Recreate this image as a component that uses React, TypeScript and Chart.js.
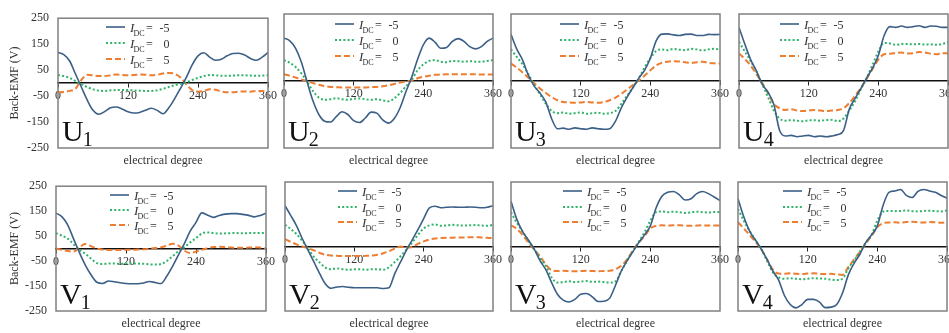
import React, { useEffect, useRef } from 'react';
import { Chart, registerables } from 'chart.js';

Chart.register(...registerables);

// ---------------- data ----------------
const DEGREES = [0, 10, 20, 30, 40, 50, 60, 70, 80, 90, 100, 110, 120, 130, 140, 150, 160, 170, 180, 190, 200, 210, 220, 230, 240, 250, 260, 270, 280, 290, 300, 310, 320, 330, 340, 350, 360];
const IDC_VALUES = ['-5', '0', '5'];
const X_MIN = 0, X_MAX = 360, X_STEP = 120;
const Y_MIN = -250, Y_MAX = 250, Y_STEP = 100;

const U1_NEG5 = [118, 110, 85, 35, -15, -65, -105, -120, -110, -95, -92, -100, -110, -115, -113, -105, -97, -105, -118, -95, -60, -20, 22, 70, 105, 117, 100, 88, 92, 105, 114, 115, 108, 95, 88, 100, 118];
const U1_ZERO = [31, 27, 20, 8, -4, -15, -24, -29, -30, -28, -27, -27, -27, -28, -29, -30, -30, -28, -22, -15, -8, -3, 3, 12, 20, 27, 31, 30, 28, 28, 29, 30, 30, 29, 28, 29, 31];
const U1_POS5 = [-35, -34, -30, -22, 12, 32, 30, 27, 27, 30, 33, 31, 30, 31, 33, 32, 30, 32, 37, 39, 36, 22, -5, -27, -33, -30, -24, -26, -32, -35, -35, -33, -32, -33, -30, -30, -35];

const U2_NEG5 = [160, 150, 122, 70, -5, -75, -125, -150, -153, -133, -115, -125, -148, -155, -138, -116, -120, -145, -157, -140, -100, -40, 15, 80, 135, 160, 145, 122, 125, 148, 158, 148, 128, 120, 128, 148, 160];
const U2_ZERO = [78, 68, 52, 28, -3, -38, -62, -70, -68, -64, -68, -70, -66, -65, -68, -70, -68, -72, -76, -65, -45, -20, 5, 40, 62, 75, 78, 72, 70, 75, 74, 72, 74, 72, 72, 75, 78];
const U2_POS5 = [25, 20, 13, 6, -1, -8, -14, -19, -22, -23, -24, -24, -24, -24, -24, -23, -22, -20, -16, -11, -6, -2, 2, 10, 16, 20, 23, 24, 25, 25, 25, 25, 25, 25, 24, 24, 25];

const U3_NEG5 = [174, 119, 78, 21, -19, -45, -79, -141, -178, -176, -180, -175, -178, -180, -175, -178, -180, -178, -150, -100, -60, -25, 10, 40, 85, 150, 175, 176, 172, 170, 174, 175, 170, 170, 174, 173, 174];
const U3_ZERO = [118, 90, 62, 25, -15, -50, -85, -112, -120, -118, -122, -120, -117, -122, -120, -118, -122, -120, -112, -85, -55, -25, 10, 50, 85, 112, 118, 115, 120, 117, 115, 120, 118, 114, 118, 120, 118];
const U3_POS5 = [65, 50, 32, 12, -8, -28, -45, -60, -72, -78, -80, -81, -80, -78, -80, -81, -78, -72, -62, -48, -32, -15, 2, 20, 40, 58, 68, 72, 74, 73, 70, 67, 70, 72, 68, 66, 65];

const U4_NEG5 = [200, 138, 80, 38, -12, -42, -88, -185, -205, -203, -208, -205, -203, -208, -205, -208, -205, -200, -185, -105, -65, -28, 12, 48, 95, 170, 203, 200, 205, 200, 203, 206, 200, 205, 204, 200, 200];
const U4_ZERO = [146, 110, 75, 35, -12, -60, -110, -140, -148, -146, -148, -150, -147, -146, -148, -146, -145, -150, -140, -110, -75, -30, 12, 60, 110, 142, 140, 135, 138, 138, 137, 138, 136, 137, 135, 138, 146];
const U4_POS5 = [103, 82, 58, 25, -8, -45, -85, -102, -108, -105, -110, -112, -110, -108, -110, -112, -110, -108, -102, -82, -55, -25, 8, 45, 80, 100, 102, 104, 106, 103, 104, 108, 106, 102, 100, 104, 103];

const V1_NEG5 = [142, 128, 95, 40, -15, -65, -105, -135, -140, -130, -133, -137, -140, -141, -141, -138, -132, -136, -140, -110, -70, -25, 20, 70, 105, 143, 134, 125, 133, 138, 140, 140, 137, 133, 127, 133, 142];
const V1_ZERO = [62, 52, 40, 18, -5, -20, -40, -58, -62, -60, -60, -61, -60, -60, -60, -61, -63, -64, -62, -50, -30, -10, 5, 25, 42, 60, 65, 62, 60, 61, 62, 62, 61, 62, 62, 62, 62];
const V1_POS5 = [0, -5, -10, -12, 5, 18, 10, 0, -4, -6, -6, -6, -5, -5, -4, -3, -1, 2, 5, 12, 19, 12, -8, -18, -12, -5, 2, 6, 7, 6, 4, 3, 3, 4, 5, 4, 0];

const V2_NEG5 = [158, 120, 80, 30, -15, -60, -105, -145, -162, -157, -155, -158, -160, -160, -160, -160, -160, -163, -160, -105, -60, -15, 25, 65, 108, 150, 156, 150, 152, 153, 152, 152, 153, 152, 150, 152, 158];
const V2_ZERO = [84, 68, 48, 22, -8, -40, -62, -82, -88, -85, -88, -90, -88, -88, -90, -88, -88, -90, -80, -60, -38, -12, 15, 45, 70, 82, 85, 80, 82, 84, 82, 81, 82, 83, 81, 80, 84];
const V2_POS5 = [28, 18, 8, 0, -6, -15, -25, -32, -35, -36, -37, -37, -37, -37, -36, -35, -32, -26, -18, -8, 0, -4, -2, 10, 20, 27, 31, 33, 34, 34, 35, 35, 36, 36, 35, 34, 32];

const V3_NEG5 = [175, 105, 58, 25, -10, -55, -90, -140, -185, -208, -215, -205, -185, -182, -195, -213, -212, -200, -150, -95, -55, -20, 15, 45, 80, 150, 195, 210, 213, 200, 180, 185, 205, 213, 205, 192, 178];
const V3_ZERO = [133, 92, 58, 22, -10, -45, -75, -120, -140, -138, -135, -138, -136, -134, -137, -136, -138, -140, -135, -95, -55, -18, 18, 55, 100, 133, 136, 133, 135, 133, 130, 132, 135, 133, 132, 134, 133];
const V3_POS5 = [82, 68, 45, 15, -12, -38, -70, -92, -95, -94, -95, -96, -95, -94, -95, -96, -95, -94, -88, -75, -50, -15, 15, 40, 70, 80, 82, 81, 82, 82, 81, 80, 81, 82, 81, 81, 82];

const V4_NEG5 = [185, 115, 60, 25, -10, -50, -95, -130, -190, -225, -238, -225, -205, -205, -215, -237, -235, -225, -180, -110, -65, -30, 15, 45, 80, 160, 210, 215, 221, 198, 190, 214, 221, 215, 210, 198, 187];
const V4_ZERO = [145, 100, 60, 25, -10, -55, -100, -120, -125, -123, -125, -127, -125, -123, -124, -125, -128, -130, -125, -85, -55, -20, 15, 45, 100, 135, 138, 137, 138, 140, 137, 136, 138, 139, 137, 136, 140];
const V4_POS5 = [94, 70, 45, 18, -10, -50, -90, -105, -106, -104, -106, -107, -105, -104, -106, -107, -106, -108, -110, -80, -50, -20, 12, 40, 75, 90, 93, 94, 92, 95, 96, 94, 93, 95, 94, 92, 94];

const PANEL_NAMES = ['U', 'U', 'U', 'U', 'V', 'V', 'V', 'V'];
const PANEL_SUBS = ['1', '2', '3', '4', '1', '2', '3', '4'];
const PANEL_SERIES = [
  [U1_NEG5, U1_ZERO, U1_POS5],
  [U2_NEG5, U2_ZERO, U2_POS5],
  [U3_NEG5, U3_ZERO, U3_POS5],
  [U4_NEG5, U4_ZERO, U4_POS5],
  [V1_NEG5, V1_ZERO, V1_POS5],
  [V2_NEG5, V2_ZERO, V2_POS5],
  [V3_NEG5, V3_ZERO, V3_POS5],
  [V4_NEG5, V4_ZERO, V4_POS5],
];

// ---------------- layout & style ----------------
const BOXES = [
  { l: 58, t: 14, r: 268, b: 148, legendX: 48 },
  { l: 284, t: 14, r: 493, b: 148, legendX: 51 },
  { l: 511, t: 14, r: 720, b: 148, legendX: 49 },
  { l: 739, t: 14, r: 948, b: 148, legendX: 41 },
  { l: 56, t: 182, r: 266, b: 311, legendX: 54 },
  { l: 285, t: 182, r: 493, b: 311, legendX: 53 },
  { l: 511, t: 182, r: 720, b: 311, legendX: 52 },
  { l: 738, t: 182, r: 947, b: 311, legendX: 45 },
];

const FONT = '"Liberation Serif", "Times New Roman", serif';
const TEXT_COLOR = '#333333';
const STYLES = [
  { color: '#3c5f87', width: 1.6, dash: [] as number[] },
  { color: '#2fb36b', width: 2, dash: [2, 2.2] },
  { color: '#ed7d31', width: 2, dash: [6, 3] },
];
const LEGEND_FRACS = [0.071, 0.193, 0.313];

const decorPlugin = {
  id: 'decor',
  afterDraw(chart: any, _args: any, opts: any) {
    const { ctx, chartArea: a } = chart;
    ctx.save();
    // frame
    ctx.setLineDash([]);
    ctx.strokeStyle = '#808080';
    ctx.lineWidth = 1.5;
    ctx.strokeRect(a.left, a.top, a.right - a.left, a.bottom - a.top);

    // panel label
    ctx.fillStyle = '#111';
    ctx.textAlign = 'left';
    ctx.textBaseline = 'alphabetic';
    ctx.font = `30px ${FONT}`;
    ctx.fillText(opts.name, a.left + 4, a.bottom - 7);
    const w = ctx.measureText(opts.name).width;
    ctx.font = `20px ${FONT}`;
    ctx.fillText(opts.sub, a.left + 4 + w - 1, a.bottom - 2);

    // x-axis title
    ctx.fillStyle = TEXT_COLOR;
    ctx.font = `12px ${FONT}`;
    ctx.textAlign = 'center';
    ctx.fillText('electrical degree', (a.left + a.right) / 2, a.bottom + 16);

    // legend
    const lx = a.left + opts.legendX;
    for (let k = 0; k < 3; k++) {
      const st = STYLES[k];
      const y = Math.round(a.top + LEGEND_FRACS[k] * (a.bottom - a.top));
      ctx.beginPath();
      ctx.setLineDash(st.dash);
      ctx.strokeStyle = st.color;
      ctx.lineWidth = st.width;
      ctx.moveTo(lx, y);
      ctx.lineTo(lx + 19, y);
      ctx.stroke();
      ctx.setLineDash([]);
      const base = y + 4.5;
      ctx.fillStyle = TEXT_COLOR;
      ctx.textAlign = 'left';
      ctx.font = `italic 13px ${FONT}`;
      ctx.fillText('I', lx + 24, base);
      ctx.font = `8px ${FONT}`;
      ctx.fillText('DC', lx + 27.5, base + 4.5);
      ctx.font = `12px ${FONT}`;
      ctx.fillText('=', lx + 40, base);
      ctx.textAlign = 'right';
      ctx.fillText(IDC_VALUES[k], lx + 63.5, base);
    }
    ctx.restore();
  },
};

const PAD_T = 12, PAD_R = 14, PAD_B = 24, PAD_L = 14;

function PanelChart({ index }: { index: number }) {
  const ref = useRef<HTMLCanvasElement>(null);
  const box = BOXES[index];
  const showY = index % 4 === 0;
  const canvasLeft = showY ? 0 : box.l - PAD_L;
  const canvasTop = box.t - PAD_T;
  const width = box.r + PAD_R - canvasLeft;
  const height = box.b + PAD_B - canvasTop;

  useEffect(() => {
    if (!ref.current) return;
    const series = PANEL_SERIES[index];
    const chart = new Chart(ref.current, {
      type: 'line',
      data: {
        datasets: series.map((vals, k) => ({
          label: `IDC = ${IDC_VALUES[k]}`,
          data: DEGREES.map((d, i) => ({ x: d, y: vals[i] })),
          borderColor: STYLES[k].color,
          borderWidth: STYLES[k].width,
          borderDash: STYLES[k].dash,
          borderCapStyle: 'butt',
          pointRadius: 0,
          fill: false,
          cubicInterpolationMode: 'monotone',
        })),
      },
      options: {
        responsive: false,
        maintainAspectRatio: false,
        animation: false,
        events: [],
        layout: { padding: { left: showY ? 8 : PAD_L, top: PAD_T, right: PAD_R, bottom: PAD_B } },
        plugins: {
          legend: { display: false },
          tooltip: { enabled: false },
          decor: { name: PANEL_NAMES[index], sub: PANEL_SUBS[index], legendX: box.legendX },
        } as any,
        scales: {
          x: {
            type: 'linear',
            min: X_MIN,
            max: X_MAX,
            position: { y: 0 } as any,
            ticks: { stepSize: X_STEP, padding: 2, color: TEXT_COLOR, font: { family: FONT, size: 12 }, maxRotation: 0 },
            grid: { display: true, drawOnChartArea: false, drawTicks: true, tickLength: 4, color: '#222' },
            border: { display: true, color: '#111', width: 1.5 },
            afterFit: (s: any) => { s.height = 0; },
          },
          y: {
            type: 'linear',
            min: Y_MIN,
            max: Y_MAX,
            display: showY,
            ticks: { stepSize: Y_STEP, padding: 9, color: TEXT_COLOR, font: { family: FONT, size: 12 } },
            grid: { display: false, drawTicks: false },
            border: { display: false },
            title: { display: true, text: 'Back-EMF (V)', color: TEXT_COLOR, font: { family: FONT, size: 12 }, padding: 0 },
            afterFit: showY ? (s: any) => { s.width = box.l - canvasLeft - 8; } : undefined,
          },
        },
      } as any,
      plugins: [decorPlugin as any],
    });
    return () => chart.destroy();
  }, []);

  return (
    <canvas
      ref={ref}
      width={width}
      height={height}
      style={{ position: 'absolute', left: canvasLeft, top: canvasTop, width, height }}
    />
  );
}

export default function App() {
  return (
    <div style={{ position: 'fixed', left: 0, top: 0, width: 949, height: 333, overflow: 'hidden', background: '#ffffff' }}>
      {PANEL_SERIES.map((_, i) => (
        <PanelChart key={i} index={i} />
      ))}
    </div>
  );
}
